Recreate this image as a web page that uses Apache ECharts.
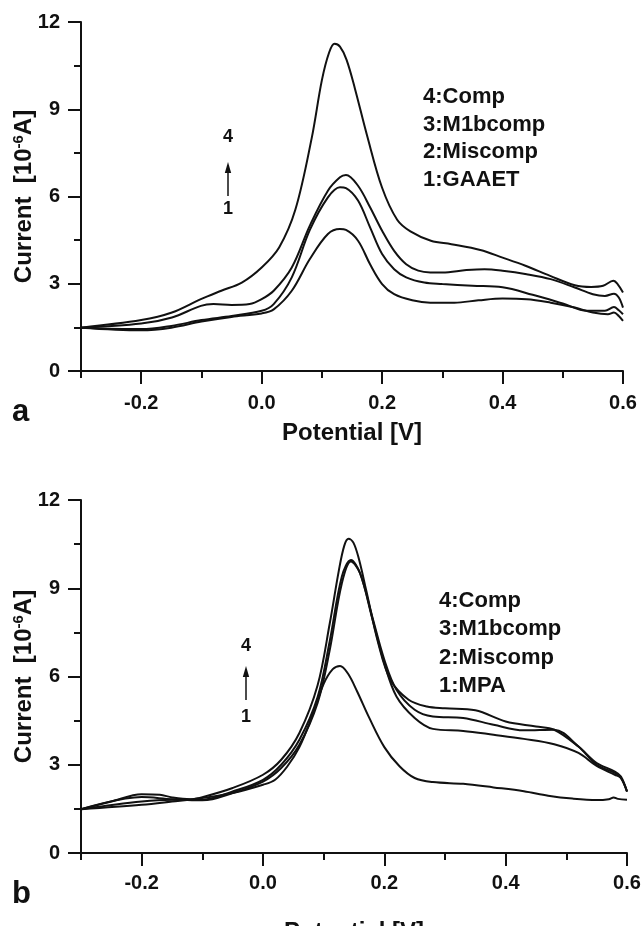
<!DOCTYPE html>
<html><head><meta charset="utf-8">
<script src="https://cdn.jsdelivr.net/npm/echarts@6/dist/echarts.min.js"></script>
<style>html,body{margin:0;padding:0;background:#fff}#c{width:644px;height:926px}</style>
</head><body><div id="c"></div>
<script>
// ---------- tick values ----------
const xMajorTicks = [-0.2, 0.0, 0.2, 0.4, 0.6];
const xMinorTicks = [-0.3, -0.1, 0.1, 0.3, 0.5];
const yTicks = [0, 3, 6, 9, 12];

// ---------- panel a ----------
const aLabels = ['4:Comp', '3:M1bcomp', '2:Miscomp', '1:GAAET'];
const aX4 = [-0.3,-0.2,-0.149,-0.101,-0.067,-0.033,0.0,0.029,0.056,0.083,0.100,0.112,0.121,0.130,0.141,0.155,0.175,0.2,0.225,0.247,0.281,0.315,0.363,0.4,0.438,0.479,0.52,0.547,0.567,0.584,0.591,0.6];
const aY4 = [1.49,1.75,2.01,2.47,2.76,3.04,3.56,4.25,5.55,8.0,10.0,10.95,11.25,11.15,10.7,9.7,8.1,6.3,5.2,4.8,4.48,4.36,4.16,3.90,3.62,3.27,2.95,2.89,2.93,3.10,2.99,2.70];
const aX3 = [-0.3,-0.2,-0.149,-0.101,-0.08,-0.05,-0.02,0.0,0.02,0.05,0.08,0.11,0.13,0.14,0.16,0.18,0.2,0.22,0.24,0.26,0.28,0.30,0.34,0.37,0.40,0.44,0.48,0.52,0.55,0.57,0.585,0.593,0.6];
const aY3 = [1.49,1.63,1.84,2.24,2.30,2.27,2.30,2.47,2.76,3.56,5.0,6.20,6.66,6.74,6.37,5.63,4.82,4.13,3.67,3.45,3.39,3.39,3.47,3.50,3.45,3.33,3.16,2.87,2.64,2.58,2.66,2.53,2.18];
const aX2 = [-0.3,-0.2,-0.15,-0.1,-0.05,0.0,0.02,0.05,0.08,0.11,0.13,0.14,0.16,0.18,0.2,0.22,0.24,0.27,0.30,0.35,0.40,0.45,0.50,0.54,0.57,0.585,0.593,0.6];
const aY2 = [1.49,1.44,1.55,1.75,1.89,2.07,2.30,3.22,4.85,5.97,6.32,6.29,5.86,4.94,4.02,3.50,3.22,3.04,2.99,2.93,2.88,2.62,2.32,2.07,2.07,2.20,2.09,1.95];
const aX1 = [-0.3,-0.2,-0.15,-0.1,-0.05,0.0,0.02,0.05,0.08,0.11,0.13,0.14,0.16,0.18,0.2,0.22,0.25,0.28,0.32,0.36,0.40,0.44,0.48,0.52,0.55,0.575,0.585,0.593,0.6];
const aY1 = [1.49,1.40,1.49,1.70,1.86,1.98,2.12,2.76,3.85,4.71,4.88,4.85,4.48,3.67,2.99,2.64,2.43,2.35,2.35,2.43,2.49,2.47,2.35,2.18,2.01,1.95,2.01,1.89,1.72];

// ---------- panel b ----------
const bLabels = ['4:Comp', '3:M1bcomp', '2:Miscomp', '1:MPA'];
const bX4 = [-0.3,-0.25,-0.2,-0.17,-0.15,-0.12,-0.1,-0.05,0.0,0.03,0.06,0.09,0.11,0.125,0.134,0.141,0.149,0.158,0.17,0.19,0.21,0.24,0.27,0.30,0.35,0.40,0.45,0.48,0.52,0.55,0.58,0.59,0.6];
const bY4 = [1.49,1.75,2.00,1.98,1.89,1.83,1.90,2.21,2.66,3.17,4.08,5.70,7.80,9.6,10.45,10.68,10.55,10.0,8.94,7.13,5.89,5.21,4.98,4.92,4.85,4.47,4.30,4.19,3.62,3.06,2.77,2.60,2.09];
const bX3 = [-0.3,-0.2,-0.15,-0.1,-0.05,0.0,0.03,0.06,0.09,0.11,0.13,0.145,0.16,0.18,0.20,0.22,0.25,0.28,0.33,0.38,0.43,0.48,0.52,0.55,0.58,0.59,0.6];
const bY3 = [1.49,1.90,1.83,1.81,2.09,2.49,3.00,3.85,5.30,7.20,9.40,9.96,9.51,8.04,6.57,5.55,4.87,4.64,4.59,4.36,4.17,4.19,3.62,3.00,2.72,2.55,2.09];
const bX2 = [-0.3,-0.2,-0.15,-0.1,-0.05,0.0,0.03,0.06,0.09,0.11,0.13,0.145,0.16,0.18,0.20,0.22,0.25,0.28,0.33,0.38,0.43,0.48,0.52,0.55,0.58,0.59,0.6];
const bY2 = [1.49,1.75,1.81,1.79,2.04,2.43,2.89,3.68,5.10,6.90,9.17,9.91,9.51,7.98,6.45,5.32,4.59,4.22,4.15,4.02,3.88,3.70,3.40,2.96,2.66,2.55,2.09];
const bX1 = [-0.3,-0.2,-0.15,-0.1,-0.05,0.0,0.02,0.04,0.06,0.08,0.10,0.115,0.127,0.14,0.155,0.175,0.2,0.225,0.25,0.28,0.33,0.38,0.43,0.47,0.51,0.55,0.57,0.578,0.585,0.6];
const bY1 = [1.49,1.64,1.75,1.87,2.04,2.32,2.49,2.94,3.60,4.60,5.75,6.25,6.36,6.10,5.50,4.60,3.60,2.95,2.55,2.41,2.35,2.23,2.10,1.95,1.85,1.80,1.83,1.89,1.84,1.81];

// ---------- build ----------
const FONT = '"Liberation Sans", Arial, Helvetica, sans-serif';
const INK = '#111';
const pairs = (xs, ys) => xs.map((x, i) => [x, ys[i]]);

function mkLine(xs, ys, axisIdx) {
  return {
    type: 'line', xAxisIndex: axisIdx * 2, yAxisIndex: axisIdx,
    data: pairs(xs, ys), showSymbol: false, smooth: 0.35,
    lineStyle: { color: INK, width: 2 }, silent: true, animation: false
  };
}

function xMain(grid) {
  return {
    gridIndex: grid, type: 'value', min: -0.3, max: 0.6,
    axisLine: { show: true, onZero: false, lineStyle: { color: INK, width: 2 } },
    axisTick: { show: true, length: 13, customValues: xMajorTicks, lineStyle: { color: INK, width: 2 } },
    axisLabel: { customValues: xMajorTicks, formatter: v => v.toFixed(1), margin: grid === 0 ? 22 : 20,
      fontSize: 20, fontWeight: 'bold', color: INK, fontFamily: FONT },
    splitLine: { show: false },
    name: 'Potential [V]', nameLocation: 'middle', nameGap: grid === 0 ? 50 : 67, nameMoveOverlap: false,
    nameTextStyle: { fontSize: 24, fontWeight: 'bold', color: INK, fontFamily: FONT }
  };
}
function xMinor(grid) {
  return {
    gridIndex: grid, type: 'value', min: -0.3, max: 0.6, position: 'bottom',
    axisLine: { show: false },
    axisTick: { show: true, length: 7, customValues: xMinorTicks, lineStyle: { color: INK, width: 2 } },
    axisLabel: { show: false }, splitLine: { show: false }
  };
}
function yMain(grid) {
  return {
    gridIndex: grid, type: 'value', min: 0, max: 12, interval: 3,
    axisLine: { show: true, onZero: false, lineStyle: { color: INK, width: 2 } },
    axisTick: { show: true, length: 13, lineStyle: { color: INK, width: 2 } },
    minorTick: { show: true, splitNumber: 2, length: 7, lineStyle: { color: INK, width: 2 } },
    axisLabel: { customValues: yTicks, margin: 21, fontSize: 20, fontWeight: 'bold', color: INK, fontFamily: FONT },
    splitLine: { show: false }, minorSplitLine: { show: false },
    name: '{t|Current  [10}{s|-6}{t|A]}', nameLocation: 'middle', nameRotate: 90, nameGap: 44,
    nameMoveOverlap: false,
    nameTextStyle: {
      rich: {
        t: { fontSize: 24, fontWeight: 'bold', color: INK, fontFamily: FONT, lineHeight: 26 },
        s: { fontSize: 15, fontWeight: 'bold', color: INK, fontFamily: FONT, verticalAlign: 'top', lineHeight: 16 }
      }
    }
  };
}

const txt = (x, y, text, size, align) => ({
  type: 'text', x: x, y: y, silent: true,
  style: { text: text, font: 'bold ' + size + 'px ' + FONT, fill: INK,
    textAlign: align || 'left', textVerticalAlign: 'middle' }
});
function arrow(x, yTail, yTip) {
  return [
    { type: 'line', silent: true, shape: { x1: x, y1: yTail, x2: x, y2: yTip + 8 },
      style: { stroke: INK, lineWidth: 1.5 } },
    { type: 'polygon', silent: true, shape: { points: [[x, yTip], [x - 3.2, yTip + 11], [x + 3.2, yTip + 11]] },
      style: { fill: INK } }
  ];
}

const graphics = [];
aLabels.forEach((t, i) => graphics.push(txt(423, 97 + i * 27.6, t, 22)));
bLabels.forEach((t, i) => graphics.push(txt(439, 601 + i * 28.4, t, 22)));
graphics.push(txt(228, 137, '4', 18, 'center'), txt(228, 209, '1', 18, 'center'));
graphics.push(...arrow(228, 196, 162));
graphics.push(txt(246, 646, '4', 18, 'center'), txt(246, 717, '1', 18, 'center'));
graphics.push(...arrow(246, 700, 666));
graphics.push(txt(12, 412, 'a', 31), txt(12, 894, 'b', 31));

const chart = echarts.init(document.getElementById('c'), null, { renderer: 'canvas' });
chart.setOption({
  animation: false,
  backgroundColor: '#fff',
  grid: [
    { left: 81, top: 22, width: 542, height: 349, containLabel: false, outerBoundsMode: 'none' },
    { left: 81, top: 500, width: 546, height: 353, containLabel: false, outerBoundsMode: 'none' }
  ],
  xAxis: [xMain(0), xMinor(0), xMain(1), xMinor(1)],
  yAxis: [yMain(0), yMain(1)],
  series: [
    mkLine(aX4, aY4, 0), mkLine(aX3, aY3, 0), mkLine(aX2, aY2, 0), mkLine(aX1, aY1, 0),
    mkLine(bX4, bY4, 1), mkLine(bX3, bY3, 1), mkLine(bX2, bY2, 1), mkLine(bX1, bY1, 1)
  ],
  graphic: graphics
});
</script></body></html>
